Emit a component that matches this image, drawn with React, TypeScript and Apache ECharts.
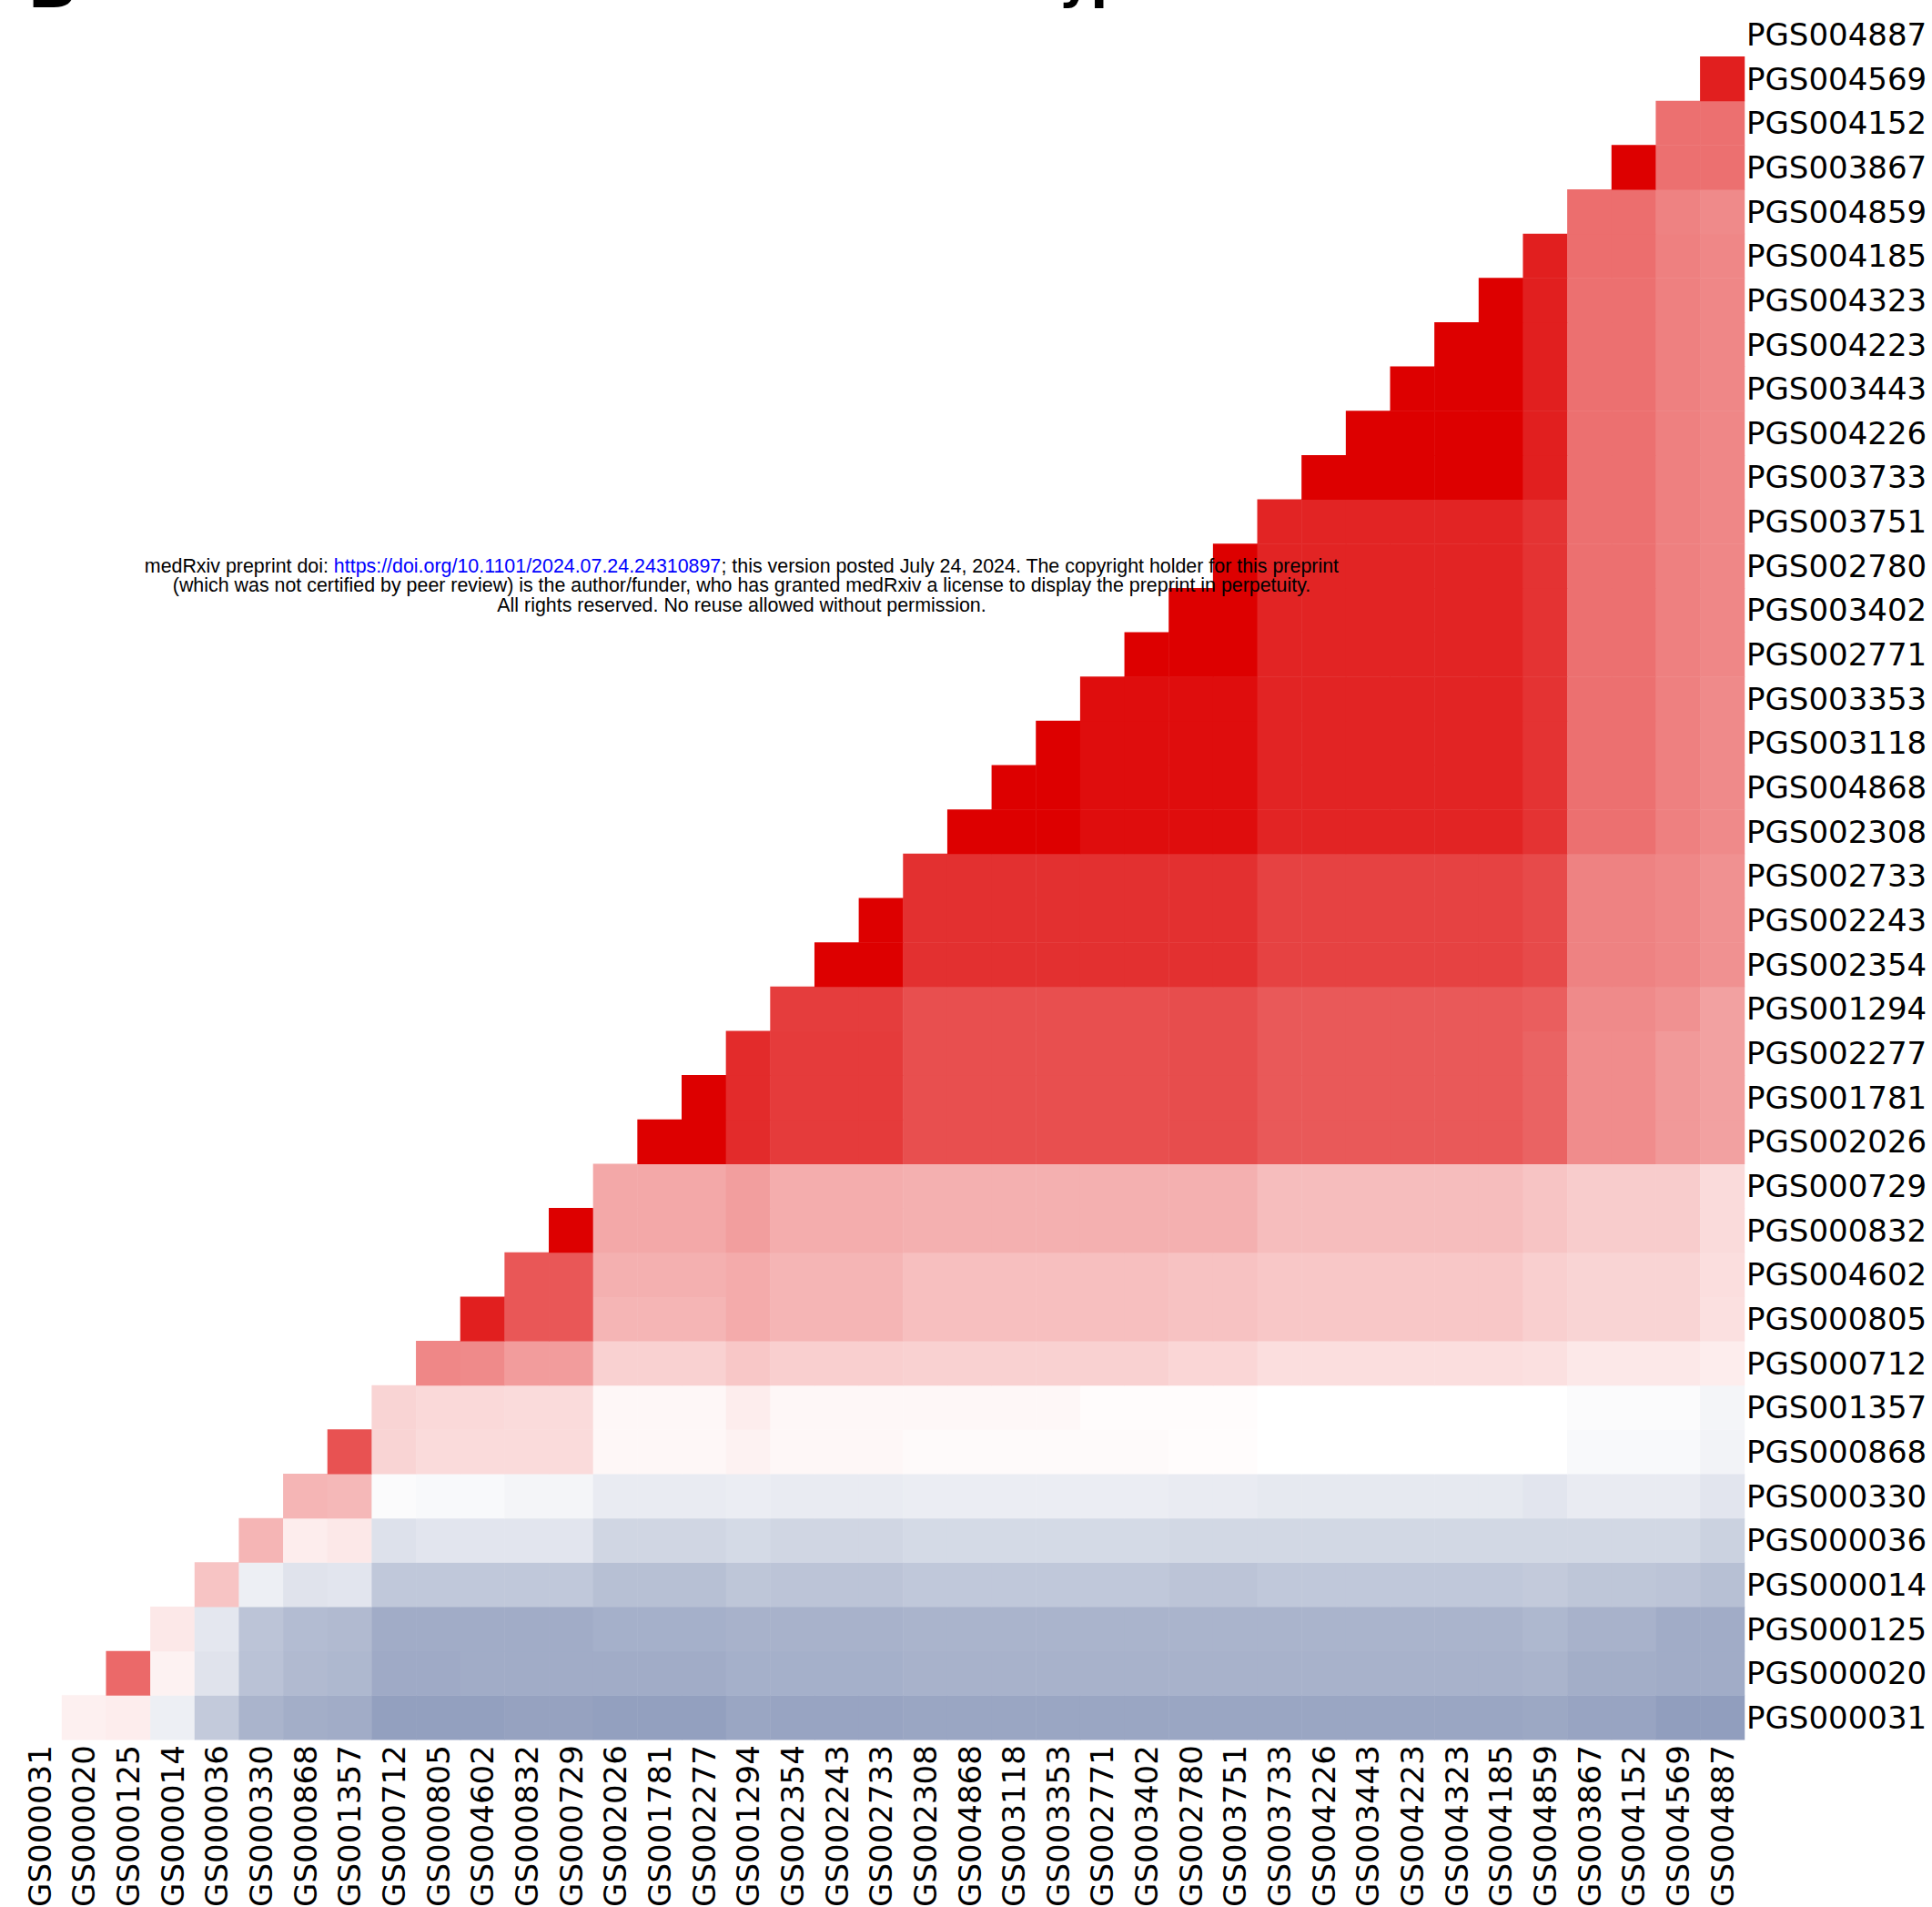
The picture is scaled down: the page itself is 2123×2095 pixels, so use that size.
import React, { useEffect, useRef } from "react";
import * as echarts from "echarts";

// Column order (left to right); the y axis uses the same order from bottom to top.
const scoreIds: string[] = [
  "PGS000031", "PGS000020", "PGS000125", "PGS000014", "PGS000036", "PGS000330",
  "PGS000868", "PGS001357", "PGS000712", "PGS000805", "PGS004602", "PGS000832",
  "PGS000729", "PGS002026", "PGS001781", "PGS002277", "PGS001294", "PGS002354",
  "PGS002243", "PGS002733", "PGS002308", "PGS004868", "PGS003118", "PGS003353",
  "PGS002771", "PGS003402", "PGS002780", "PGS003751", "PGS003733", "PGS004226",
  "PGS003443", "PGS004223", "PGS004323", "PGS004185", "PGS004859", "PGS003867",
  "PGS004152", "PGS004569", "PGS004887",
];

// Correlation of row i with the columns i+1 ... last (upper triangle), row i = scoreIds[i]
const corrRows: number[][] = [
  [0.06, 0.07, -0.08, -0.27, -0.38, -0.41, -0.42, -0.48, -0.48, -0.48, -0.47, -0.47, -0.48, -0.48, -0.48, -0.45, -0.46, -0.46, -0.46, -0.45, -0.45, -0.45, -0.45, -0.45, -0.45, -0.45, -0.45, -0.45, -0.45, -0.45, -0.45, -0.45, -0.45, -0.44, -0.46, -0.46, -0.49, -0.49],
  [0.59, 0.05, -0.14, -0.31, -0.35, -0.36, -0.43, -0.43, -0.42, -0.42, -0.42, -0.42, -0.42, -0.42, -0.40, -0.40, -0.40, -0.40, -0.39, -0.39, -0.39, -0.39, -0.39, -0.39, -0.39, -0.39, -0.39, -0.39, -0.39, -0.39, -0.39, -0.39, -0.38, -0.41, -0.41, -0.42, -0.42],
  [0.09, -0.12, -0.30, -0.34, -0.35, -0.42, -0.42, -0.42, -0.42, -0.42, -0.40, -0.40, -0.40, -0.39, -0.39, -0.39, -0.39, -0.38, -0.38, -0.38, -0.38, -0.38, -0.38, -0.38, -0.38, -0.38, -0.38, -0.38, -0.38, -0.38, -0.38, -0.36, -0.39, -0.39, -0.42, -0.42],
  [0.23, -0.08, -0.14, -0.13, -0.28, -0.28, -0.28, -0.28, -0.28, -0.32, -0.32, -0.32, -0.29, -0.30, -0.30, -0.30, -0.28, -0.28, -0.28, -0.28, -0.28, -0.28, -0.30, -0.30, -0.28, -0.28, -0.28, -0.28, -0.28, -0.28, -0.27, -0.29, -0.29, -0.30, -0.32],
  [0.29, 0.07, 0.09, -0.15, -0.13, -0.13, -0.13, -0.13, -0.21, -0.21, -0.21, -0.19, -0.21, -0.21, -0.21, -0.19, -0.19, -0.19, -0.19, -0.19, -0.19, -0.20, -0.20, -0.20, -0.20, -0.20, -0.20, -0.20, -0.20, -0.20, -0.20, -0.20, -0.20, -0.23],
  [0.29, 0.28, -0.02, -0.03, -0.03, -0.05, -0.05, -0.10, -0.10, -0.10, -0.09, -0.10, -0.10, -0.10, -0.09, -0.09, -0.09, -0.09, -0.09, -0.09, -0.10, -0.10, -0.11, -0.11, -0.11, -0.11, -0.11, -0.11, -0.13, -0.10, -0.10, -0.10, -0.13],
  [0.68, 0.17, 0.14, 0.14, 0.14, 0.14, 0.03, 0.03, 0.03, 0.05, 0.03, 0.03, 0.03, 0.02, 0.02, 0.02, 0.02, 0.02, 0.02, 0.01, 0.01, 0.0, 0.0, 0.0, 0.0, 0.0, 0.0, 0.0, -0.03, -0.03, -0.03, -0.06],
  [0.17, 0.15, 0.15, 0.14, 0.14, 0.03, 0.03, 0.03, 0.07, 0.03, 0.03, 0.03, 0.03, 0.03, 0.03, 0.03, 0.01, 0.01, 0.01, 0.01, 0.0, 0.0, 0.0, 0.0, 0.0, 0.0, 0.0, -0.02, -0.02, -0.02, -0.05],
  [0.47, 0.46, 0.39, 0.39, 0.18, 0.18, 0.18, 0.22, 0.19, 0.19, 0.19, 0.18, 0.18, 0.18, 0.18, 0.18, 0.18, 0.16, 0.16, 0.13, 0.13, 0.13, 0.13, 0.13, 0.13, 0.12, 0.09, 0.09, 0.09, 0.07],
  [0.88, 0.66, 0.66, 0.29, 0.29, 0.29, 0.33, 0.29, 0.29, 0.29, 0.25, 0.25, 0.25, 0.25, 0.25, 0.25, 0.24, 0.24, 0.22, 0.22, 0.22, 0.22, 0.22, 0.22, 0.19, 0.17, 0.17, 0.17, 0.12],
  [0.66, 0.66, 0.31, 0.31, 0.31, 0.33, 0.29, 0.29, 0.29, 0.25, 0.25, 0.25, 0.25, 0.25, 0.25, 0.24, 0.24, 0.22, 0.22, 0.22, 0.22, 0.22, 0.22, 0.19, 0.17, 0.17, 0.17, 0.13],
  [1.0, 0.34, 0.34, 0.34, 0.38, 0.32, 0.32, 0.32, 0.31, 0.31, 0.31, 0.31, 0.31, 0.31, 0.31, 0.31, 0.26, 0.26, 0.26, 0.26, 0.26, 0.26, 0.23, 0.20, 0.20, 0.20, 0.14],
  [0.34, 0.34, 0.34, 0.38, 0.32, 0.32, 0.32, 0.31, 0.31, 0.31, 0.31, 0.31, 0.31, 0.31, 0.31, 0.26, 0.26, 0.26, 0.26, 0.26, 0.26, 0.23, 0.20, 0.20, 0.20, 0.14],
  [1.0, 1.0, 0.83, 0.77, 0.77, 0.77, 0.69, 0.69, 0.69, 0.69, 0.69, 0.69, 0.70, 0.70, 0.65, 0.65, 0.65, 0.65, 0.65, 0.65, 0.61, 0.45, 0.45, 0.40, 0.37],
  [1.0, 0.83, 0.77, 0.77, 0.77, 0.69, 0.69, 0.69, 0.69, 0.69, 0.69, 0.70, 0.70, 0.65, 0.65, 0.65, 0.65, 0.65, 0.65, 0.61, 0.45, 0.45, 0.40, 0.37],
  [0.83, 0.77, 0.77, 0.77, 0.69, 0.69, 0.69, 0.69, 0.69, 0.69, 0.70, 0.70, 0.65, 0.65, 0.65, 0.65, 0.65, 0.65, 0.61, 0.45, 0.45, 0.40, 0.37],
  [0.76, 0.76, 0.76, 0.69, 0.69, 0.69, 0.69, 0.69, 0.69, 0.70, 0.70, 0.65, 0.65, 0.65, 0.65, 0.65, 0.65, 0.63, 0.46, 0.46, 0.43, 0.37],
  [1.0, 1.0, 0.81, 0.81, 0.81, 0.81, 0.81, 0.81, 0.81, 0.81, 0.74, 0.74, 0.74, 0.74, 0.74, 0.74, 0.71, 0.49, 0.49, 0.47, 0.43],
  [1.0, 0.81, 0.81, 0.81, 0.81, 0.81, 0.81, 0.81, 0.81, 0.74, 0.74, 0.74, 0.74, 0.74, 0.74, 0.71, 0.49, 0.49, 0.47, 0.43],
  [0.81, 0.81, 0.81, 0.81, 0.81, 0.81, 0.81, 0.81, 0.74, 0.74, 0.74, 0.74, 0.74, 0.74, 0.71, 0.49, 0.49, 0.47, 0.43],
  [1.0, 1.0, 1.0, 0.95, 0.95, 0.95, 0.95, 0.86, 0.86, 0.86, 0.86, 0.86, 0.86, 0.80, 0.56, 0.56, 0.50, 0.46],
  [1.0, 1.0, 0.95, 0.95, 0.95, 0.95, 0.86, 0.86, 0.86, 0.86, 0.86, 0.86, 0.80, 0.56, 0.56, 0.50, 0.46],
  [1.0, 0.95, 0.95, 0.95, 0.95, 0.86, 0.86, 0.86, 0.86, 0.86, 0.86, 0.80, 0.56, 0.56, 0.50, 0.46],
  [0.95, 0.95, 0.95, 0.95, 0.86, 0.86, 0.86, 0.86, 0.86, 0.86, 0.80, 0.56, 0.56, 0.50, 0.46],
  [1.0, 1.0, 1.0, 0.86, 0.86, 0.86, 0.86, 0.86, 0.86, 0.80, 0.56, 0.56, 0.50, 0.47],
  [1.0, 1.0, 0.86, 0.86, 0.86, 0.86, 0.86, 0.86, 0.80, 0.56, 0.56, 0.50, 0.47],
  [1.0, 0.86, 0.86, 0.86, 0.86, 0.86, 0.86, 0.80, 0.56, 0.56, 0.50, 0.47],
  [0.86, 0.86, 0.86, 0.86, 0.86, 0.86, 0.80, 0.56, 0.56, 0.50, 0.47],
  [1.0, 1.0, 1.0, 1.0, 1.0, 0.88, 0.56, 0.56, 0.50, 0.47],
  [1.0, 1.0, 1.0, 1.0, 0.88, 0.56, 0.56, 0.50, 0.47],
  [1.0, 1.0, 1.0, 0.88, 0.56, 0.56, 0.50, 0.47],
  [1.0, 1.0, 0.88, 0.56, 0.56, 0.50, 0.47],
  [1.0, 0.88, 0.56, 0.56, 0.50, 0.47],
  [0.88, 0.57, 0.57, 0.50, 0.47],
  [0.57, 0.57, 0.49, 0.46],
  [1.0, 0.56, 0.56],
  [0.56, 0.56],
  [0.88],
];

const colorStops: string[] = ["#1F3A7A", "#FFFFFF", "#DD0000"];

const panelLabel = "B";
const titleText = "Hypertension";
const noticeLines: string[] = [
  "(which was not certified by peer review) is the author/funder, who has granted medRxiv a license to display the preprint in perpetuity.",
  "All rights reserved. No reuse allowed without permission.",
];

export default function App() {
  const ref = useRef<HTMLDivElement>(null);

  useEffect(() => {
    if (!ref.current) return;
    const chart = echarts.init(ref.current, undefined, { renderer: "svg" });

    const cells: [number, number, number][] = [];
    corrRows.forEach((row, r) => {
      row.forEach((v, k) => {
        cells.push([r + 1 + k, r, v]);
      });
    });

    const labelFont = "'DejaVu Sans', sans-serif";
    const noticeFont = "'Liberation Sans', Arial, sans-serif";
    const noticeSize = 21.4;

    chart.setOption({
      animation: false,
      backgroundColor: "#ffffff",
      grid: {
        left: 19.4,
        top: 13.6,
        width: 1897.6,
        height: 1897.6,
        containLabel: false,
        outerBoundsMode: "none",
      },
      xAxis: {
        type: "category",
        data: scoreIds,
        position: "bottom",
        axisLine: { show: false },
        axisTick: { show: false },
        splitLine: { show: false },
        axisLabel: {
          interval: 0,
          rotate: 90,
          margin: 6,
          fontSize: 34,
          fontFamily: labelFont,
          color: "#000000",
        },
      },
      yAxis: {
        type: "category",
        data: scoreIds,
        position: "right",
        axisLine: { show: false },
        axisTick: { show: false },
        splitLine: { show: false },
        axisLabel: {
          interval: 0,
          margin: 2,
          fontSize: 34,
          fontFamily: labelFont,
          color: "#000000",
        },
      },
      visualMap: {
        type: "continuous",
        show: false,
        min: -1,
        max: 1,
        dimension: 2,
        inRange: { color: colorStops },
      },
      series: [
        {
          type: "heatmap",
          data: cells,
          itemStyle: { borderWidth: 0 },
          emphasis: { disabled: true },
          silent: true,
        },
      ],
      graphic: [
        {
          type: "text",
          z: 100,
          x: 30,
          y: -17,
          style: {
            text: panelLabel,
            fontSize: 72,
            fontWeight: "bold",
            fontFamily: labelFont,
            fill: "#000000",
            align: "left",
            verticalAlign: "middle",
          },
        },
        {
          type: "text",
          z: 100,
          x: 1118,
          y: -21,
          style: {
            text: titleText,
            fontSize: 54,
            fontWeight: "bold",
            fontFamily: labelFont,
            fill: "#000000",
            align: "left",
            verticalAlign: "middle",
          },
        },
        {
          type: "text",
          z: 100,
          x: 815,
          y: 621.5,
          style: {
            text: "{a|medRxiv preprint doi: }{b|https://doi.org/10.1101/2024.07.24.24310897}{a|; this version posted July 24, 2024. The copyright holder for this preprint}",
            rich: {
              a: { fontSize: noticeSize, fontFamily: noticeFont, fill: "#000000" },
              b: { fontSize: noticeSize, fontFamily: noticeFont, fill: "#0000FF" },
            },
            fontSize: noticeSize,
            fontFamily: noticeFont,
            align: "center",
            verticalAlign: "middle",
          },
        },
        {
          type: "text",
          z: 100,
          x: 815,
          y: 643,
          style: {
            text: noticeLines[0],
            fontSize: noticeSize,
            fontFamily: noticeFont,
            fill: "#000000",
            align: "center",
            verticalAlign: "middle",
          },
        },
        {
          type: "text",
          z: 100,
          x: 815,
          y: 665,
          style: {
            text: noticeLines[1],
            fontSize: noticeSize,
            fontFamily: noticeFont,
            fill: "#000000",
            align: "center",
            verticalAlign: "middle",
          },
        },
      ],
    });

    return () => chart.dispose();
  }, []);

  return (
    <div
      ref={ref}
      style={{ position: "fixed", left: 0, top: 0, width: 2123, height: 2095, background: "#ffffff" }}
    />
  );
}
